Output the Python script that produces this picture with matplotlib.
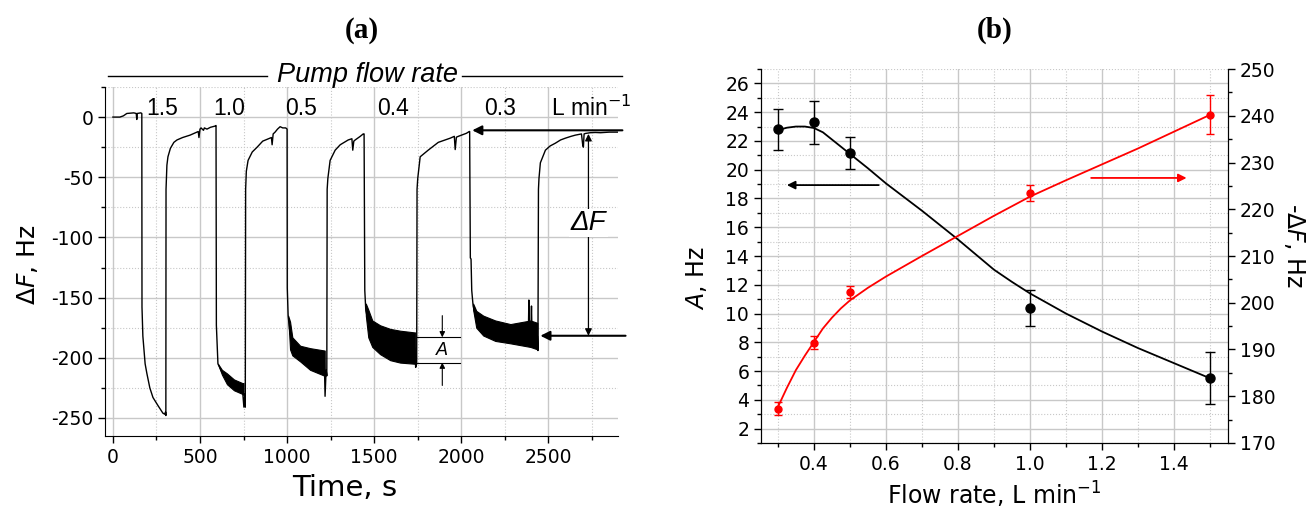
import matplotlib
matplotlib.use('Agg')
import matplotlib.pyplot as plt
from matplotlib.ticker import MultipleLocator

plt.rcParams['font.family'] = ['DejaVu Sans']
plt.rcParams['mathtext.fontset'] = 'dejavusans'
plt.rcParams['axes.unicode_minus'] = False

# ---- panel (a): frequency trace, (time s, dF Hz)
trace = [
    (0, 0), (40, 0), (60, 1), (80, 3), (120, 3.5), (134, 3), (137, -2), (140, 3), (160, 3.5), (166, 3),
    (167, -158), (172, -182), (185, -205), (195, -213), (212, -225), (230, -233), (260, -240),
    (287, -246), (299, -247), (302, -245),
    (304, -248), (305, -60), (310, -40), (316, -33), (330, -26), (350, -21), (368, -19), (400, -17),
    (443, -15), (483, -12.5), (490, -12), (494, -17), (500, -10), (506, -9), (520, -11), (525, -9),
    (540, -10), (560, -8.5), (586, -7.5), (591, -7),
    (592, -7), (594, -173), (603, -205), (626, -212), (655, -217), (695, -222), (743, -225),
    (752, -241), (757, -230),
    (760, -241), (762, -60), (766, -45), (776, -36), (800, -29), (828, -25), (860, -20), (902, -17.5),
    (910, -17), (914, -23), (920, -14), (931, -12.5), (945, -10), (960, -8), (975, -9), (992, -9),
    (1000, -10), (1001, -142), (1006, -165), (1017, -180), (1075, -196), (1132, -200), (1214, -204),
    (1218, -232), (1224, -210), (1228, -215),
    (1230, -60), (1234, -51), (1247, -36), (1276, -27.5), (1305, -23), (1351, -19), (1372, -18),
    (1377, -27.5), (1383, -20), (1391, -19), (1420, -16), (1437, -14), (1442, -14),
    (1446, -144), (1452, -161), (1466, -170), (1489, -180), (1534, -185), (1592, -189), (1649, -191),
    (1734, -192), (1738, -208), (1744, -205),
    (1746, -60), (1750, -51), (1764, -33), (1810, -27.5), (1868, -21), (1937, -17.5), (1960, -16),
    (1965, -27), (1972, -16.7), (1983, -16), (2029, -13.5), (2046, -12),
    (2048, -12), (2052, -117), (2056, -118), (2060, -144), (2068, -157), (2086, -168), (2126, -173),
    (2195, -177), (2282, -180), (2385, -180), (2388, -152), (2391, -178), (2400, -175), (2403, -157),
    (2406, -180), (2437, -182), (2440, -194),
    (2443, -60), (2446, -51), (2454, -38), (2483, -27.5), (2510, -24), (2540, -21.7), (2570, -19),
    (2598, -17.5), (2630, -16), (2655, -15), (2690, -14), (2697, -23), (2701, -25), (2705, -14),
    (2713, -13.6), (2740, -13), (2770, -12.8), (2799, -13), (2850, -12.5), (2900, -12.5),
]

# noisy regions: upper / lower envelope
band_10_t = [603, 626, 655, 695, 743, 750]
band_10_hi = [-205, -210, -213, -218, -221, -221]
band_10_lo = [-205, -214, -222, -227, -230, -231]

band_05_t = [1006, 1017, 1030, 1075, 1132, 1216]
band_05_hi = [-165, -170, -183, -190, -192, -194]
band_05_lo = [-165, -193, -198, -203, -210, -215]

band_04_t = [1452, 1466, 1489, 1534, 1592, 1649, 1736]
band_04_hi = [-155, -160, -169, -173, -176, -177.5, -179]
band_04_lo = [-165, -183, -191, -197, -202, -204, -205]

band_03_t = [2068, 2086, 2126, 2195, 2282, 2397, 2437]
band_03_hi = [-155, -161, -165, -169, -172, -169, -171]
band_03_lo = [-160, -175, -181.5, -186, -188, -191, -193]

rate_labels = ['1.5', '1.0', '0.5', '0.4', '0.3', 'L min$^{-1}$']
rate_label_t = [282, 667, 1080, 1609, 2224, 2747]

# ---- panel (b)
flow = [0.3, 0.4, 0.5, 1.0, 1.5]
amp = [22.8, 23.3, 21.15, 10.4, 5.5]
amp_err = [1.4, 1.5, 1.1, 1.25, 1.8]
dF = [177.3, 191.4, 202.3, 223.5, 240.2]
dF_err = [1.4, 1.4, 1.2, 1.7, 4.2]

amp_fit_x = [0.30, 0.325, 0.35, 0.375, 0.40, 0.425, 0.45, 0.475, 0.50, 0.55, 0.60, 0.65, 0.70,
             0.75, 0.80, 0.85, 0.90, 0.95, 1.00, 1.10, 1.20, 1.30, 1.40, 1.50]
amp_fit_y = [22.75, 22.92, 23.0, 23.0, 22.9, 22.6, 22.1, 21.6, 21.1, 20.1, 19.05, 18.1, 17.15,
             16.15, 15.15, 14.1, 13.05, 12.2, 11.4, 10.0, 8.75, 7.6, 6.55, 5.5]
dF_fit_x = [0.30, 0.325, 0.35, 0.375, 0.40, 0.425, 0.45, 0.475, 0.50, 0.55, 0.60, 0.70, 0.80,
            0.90, 1.00, 1.10, 1.20, 1.30, 1.40, 1.50]
dF_fit_y = [177.7, 181.8, 185.6, 188.7, 191.6, 194.5, 196.8, 198.8, 200.5, 203.2, 205.6, 210.0,
            214.3, 218.6, 222.7, 226.2, 229.6, 233.0, 236.6, 240.2]

GRID = '#c8c8c8'
ARIAL = 'Liberation Sans'

fig = plt.figure(figsize=(13.1, 5.09), dpi=100)
ax1 = fig.add_axes([0.0802, 0.1434, 0.3916, 0.6857])
ax2 = fig.add_axes([0.5809, 0.1297, 0.3565, 0.7347])
ax3 = ax2.twinx()

# ---------------- (a)
tt = [p[0] for p in trace]
ff = [p[1] for p in trace]
for bt, bh, bl in [(band_10_t, band_10_hi, band_10_lo), (band_05_t, band_05_hi, band_05_lo),
                   (band_04_t, band_04_hi, band_04_lo), (band_03_t, band_03_hi, band_03_lo)]:
    ax1.fill_between(bt, bl, bh, color='k', lw=0.8, zorder=3)
ax1.plot(tt, ff, color='k', lw=1, zorder=3)

ax1.set_xlim(-45, 2900)
ax1.set_ylim(-265, 25)
ax1.xaxis.set_major_locator(MultipleLocator(500))
ax1.xaxis.set_minor_locator(MultipleLocator(250))
ax1.yaxis.set_major_locator(MultipleLocator(50))
ax1.yaxis.set_minor_locator(MultipleLocator(25))
ax1.grid(which='major', color=GRID, lw=1, zorder=0)
ax1.grid(which='minor', color=GRID, lw=0.8, ls=':', zorder=0)
ax1.set_axisbelow(True)
for s in ['top', 'right']:
    ax1.spines[s].set_visible(False)
ax1.tick_params(which='both', direction='out', labelsize=13.5, width=1)
ax1.tick_params(which='major', length=5)
ax1.tick_params(which='minor', length=3)

ax1.text(-0.152, 0.49, r'$\mathit{ΔF}$, Hz', transform=ax1.transAxes, rotation=90,
         ha='center', va='center', fontsize=18)
ax1.text(0.468, -0.149, 'Time, s', transform=ax1.transAxes, ha='center', va='center', fontsize=21)

for lab, t in zip(rate_labels, rate_label_t):
    ax1.text(t, 7.5, lab, ha='center', va='center', fontsize=16.5, family=ARIAL)

ax1.text(1460, 35, 'Pump flow rate', ha='center', va='center', fontsize=19.5,
         family=ARIAL, style='italic')
ax1.plot([-29, 885], [34, 34], color='k', lw=1, clip_on=False)
ax1.plot([2006, 2925], [34, 34], color='k', lw=1, clip_on=False)

arrow_thick = dict(arrowstyle='-|>', color='k', lw=1.5, mutation_scale=14, shrinkA=0, shrinkB=0)
ax1.annotate('', xy=(2063, -11), xytext=(2925, -11), arrowprops=arrow_thick, annotation_clip=False)
ax1.annotate('', xy=(2454, -181.7), xytext=(2943, -181.7), arrowprops=arrow_thick, annotation_clip=False)
ax1.annotate('', xy=(2730, -181.7), xytext=(2730, -14),
             arrowprops=dict(arrowstyle='<|-|>', color='k', lw=0.9, mutation_scale=10,
                             shrinkA=0, shrinkB=0))
ax1.text(2730, -88, 'ΔF', ha='center', va='center', fontsize=20, family=ARIAL, style='italic',
         bbox=dict(facecolor='white', edgecolor='none', pad=1), zorder=5)

ax1.plot([1747, 1994], [-183, -183], color='k', lw=0.8)
ax1.plot([1747, 1994], [-204, -204], color='k', lw=0.8)
arrow_thin = dict(arrowstyle='-|>', color='k', lw=0.8, mutation_scale=8, shrinkA=0, shrinkB=0)
ax1.annotate('', xy=(1891, -183), xytext=(1891, -165), arrowprops=arrow_thin)
ax1.annotate('', xy=(1891, -204), xytext=(1891, -223), arrowprops=arrow_thin)
ax1.text(1891, -194, 'A', ha='center', va='center', fontsize=13, family=ARIAL, style='italic')

# ---------------- (b)
ax2.plot(amp_fit_x, amp_fit_y, color='k', lw=1.3, zorder=3)
ax2.errorbar(flow, amp, yerr=amp_err, fmt='o', color='k', ms=6.5, capsize=3.5,
             elinewidth=1, capthick=1, zorder=4)
ax3.plot(dF_fit_x, dF_fit_y, color='red', lw=1.3, zorder=3)
ax3.errorbar(flow, dF, yerr=dF_err, fmt='o', color='red', ms=5, capsize=3,
             elinewidth=1, capthick=1, zorder=4)

ax2.set_xlim(0.253, 1.55)
ax2.set_ylim(1, 27)
ax3.set_ylim(170, 250)
ax2.xaxis.set_major_locator(MultipleLocator(0.2))
ax2.xaxis.set_minor_locator(MultipleLocator(0.1))
ax2.yaxis.set_major_locator(MultipleLocator(2))
ax2.yaxis.set_minor_locator(MultipleLocator(1))
ax3.yaxis.set_major_locator(MultipleLocator(10))
ax3.yaxis.set_minor_locator(MultipleLocator(5))
ax2.grid(which='major', color=GRID, lw=1, zorder=0)
ax2.grid(which='minor', color=GRID, lw=0.8, ls=':', zorder=0)
ax2.set_axisbelow(True)
ax2.spines['top'].set_visible(False)
ax3.spines['top'].set_visible(False)
for a in (ax2, ax3):
    a.tick_params(which='both', direction='out', labelsize=13.5, width=1)
    a.tick_params(which='major', length=5)
    a.tick_params(which='minor', length=3)

ax2.annotate('', xy=(0.325, 18.93), xytext=(0.58, 18.93),
             arrowprops=dict(arrowstyle='-|>', color='k', lw=1.3, mutation_scale=12, shrinkA=0, shrinkB=0))
ax3.annotate('', xy=(1.435, 226.7), xytext=(1.17, 226.7),
             arrowprops=dict(arrowstyle='-|>', color='red', lw=1.3, mutation_scale=12, shrinkA=0, shrinkB=0))

ax2.text(-0.137, 0.441, r'$\mathit{A}$, Hz', transform=ax2.transAxes, rotation=90,
         ha='center', va='center', fontsize=17)
ax2.text(1.143, 0.529, r'-$\mathit{ΔF}$, Hz', transform=ax2.transAxes, rotation=270,
         ha='center', va='center', fontsize=17)
ax2.text(0.499, -0.139, 'Flow rate, L min$^{-1}$', transform=ax2.transAxes,
         ha='center', va='center', fontsize=17)

fig.text(0.2763, 0.941, '(a)', ha='center', va='center', fontsize=21,
         family='Liberation Serif', weight='bold')
fig.text(0.7595, 0.941, '(b)', ha='center', va='center', fontsize=21,
         family='Liberation Serif', weight='bold')

fig.savefig('out.png', dpi=100)
